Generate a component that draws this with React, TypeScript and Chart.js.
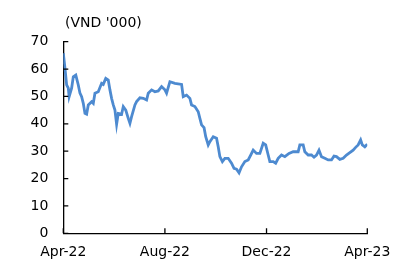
import React, { useEffect, useRef } from "react";
import { Chart, registerables } from "chart.js";

Chart.register(...registerables);

// Days since 1 Apr 2022
const days = [
  0, 2, 4, 6, 7, 10, 12, 15, 18, 20, 22, 24, 26, 28, 30, 34, 36, 38, 42, 46,
  48, 51, 54, 56, 58, 60, 62, 64, 66, 70, 72, 75, 78, 80, 82, 86, 88, 92, 96, 100,
  102, 106, 110, 114, 118, 122, 124, 128, 134, 142, 144, 148, 152, 154, 158, 162, 164, 166, 169, 171,
  174, 176, 180, 184, 186, 188, 191, 194, 198, 202, 205, 208, 211, 214, 218, 222, 225, 228, 232, 236,
  240, 243, 246, 248, 252, 255, 258, 262, 266, 271, 276, 282, 284, 288, 290, 294, 298, 301, 304, 307,
  310, 314, 318, 322, 325, 328, 332, 336, 340, 344, 348, 351, 354, 357, 359, 362, 365,
];
const prices = [
  65.8, 60.3, 54.2, 53, 49.9, 53, 57.2, 57.8, 54.2, 51.2, 49.9, 47.5, 43.8, 43.5, 46.9, 48.1, 47.5, 51.2, 51.7, 54.8,
  54.4, 56.6, 56, 52.4, 49.3, 46.9, 45, 39.8, 43.8, 43.5, 46.3, 45, 42, 40.2, 42.6, 46.9, 48.1, 49.5, 49.3, 48.7,
  51.2, 52.4, 51.7, 52, 53.6, 52.4, 51.2, 55.4, 54.8, 54.4, 49.9, 50.5, 49.3, 46.9, 46.3, 44.4, 42, 39.6, 38.6, 35.3,
  32.3, 33.5, 35.3, 34.7, 31.6, 28, 26.2, 27.4, 27.4, 25.6, 23.7, 23.4, 22.1, 24.3, 26.2, 26.8, 28.6, 30.4, 29.2, 29.2,
  32.9, 32.3, 28.6, 26.2, 26.2, 25.6, 27.4, 28.6, 28, 29.2, 29.8, 29.8, 32.3, 32.3, 29.8, 28.6, 28.6, 27.8, 28.6, 30.4,
  28, 27.4, 26.8, 26.8, 28.2, 28, 27, 27.4, 28.6, 29.5, 30.4, 31.4, 32.3, 34.1, 32.3, 31.6, 32.6,
];
const xTickDays = [0, 122, 244, 365];
const xTickLabels = ["Apr-22", "Aug-22", "Dec-22", "Apr-23"];
const yTicks = [0, 10, 20, 30, 40, 50, 60, 70];
const unitLabel = "(VND '000)";

const FONT = "'DejaVu Sans', sans-serif";

export default function App() {
  const ref = useRef<HTMLCanvasElement | null>(null);

  useEffect(() => {
    if (!ref.current) return;
    const innerTicks = {
      id: "innerTicks",
      afterDraw(chart: any) {
        const { ctx, scales, chartArea } = chart;
        ctx.save();
        ctx.strokeStyle = "#000";
        ctx.lineWidth = 1.3;
        ctx.beginPath();
        for (const v of yTicks) {
          const y = scales.y.getPixelForValue(v);
          ctx.moveTo(chartArea.left, y);
          ctx.lineTo(chartArea.left + 5, y);
        }
        for (const d of xTickDays) {
          const x = scales.x.getPixelForValue(d);
          ctx.moveTo(x, chartArea.bottom);
          ctx.lineTo(x, chartArea.bottom - 5);
        }
        ctx.stroke();
        ctx.fillStyle = "#000";
        ctx.font = "14px " + FONT;
        ctx.textBaseline = "middle";
        ctx.textAlign = "left";
        ctx.fillText(unitLabel, 65, 23);
        ctx.restore();
      },
    };
    const chart = new Chart(ref.current, {
      type: "line",
      data: {
        datasets: [
          {
            data: days.map((d, i) => ({ x: d, y: prices[i] })),
            borderColor: "#4d8ad0",
            borderWidth: 2.8,
            pointRadius: 0,
            tension: 0,
            fill: false,
          },
        ],
      },
      options: {
        animation: false,
        responsive: true,
        maintainAspectRatio: false,
        layout: { padding: { left: 0, right: 42.7, top: 41.7, bottom: 0 } },
        plugins: { legend: { display: false }, tooltip: { enabled: false }, title: { display: false } },
        scales: {
          x: {
            type: "linear",
            min: 0,
            max: 365,
            afterBuildTicks: (s: any) => {
              s.ticks = xTickDays.map((v) => ({ value: v }));
            },
            afterFit: (s: any) => {
              s.height = 29.7;
            },
            ticks: {
              autoSkip: false,
              maxRotation: 0,
              padding: 11,
              color: "#000",
              font: { family: FONT, size: 14 },
              callback: (v: any) => {
                const i = xTickDays.indexOf(Number(v));
                return i >= 0 ? xTickLabels[i] : "";
              },
            },
            grid: { display: false, drawTicks: false },
            border: { display: true, color: "#000", width: 1.3 },
          },
          y: {
            min: 0,
            max: 70,
            afterBuildTicks: (s: any) => {
              s.ticks = yTicks.map((v) => ({ value: v }));
            },
            afterFit: (s: any) => {
              s.width = 63.3;
            },
            ticks: {
              padding: 15,
              color: "#000",
              font: { family: FONT, size: 14 },
            },
            grid: { display: false, drawTicks: false },
            border: { display: true, color: "#000", width: 1.3 },
          },
        },
      },
      plugins: [innerTicks],
    });
    return () => chart.destroy();
  }, []);

  return (
    <div style={{ position: "absolute", left: 0, top: 0, width: 410, height: 263, background: "#fff" }}>
      <canvas ref={ref} />
    </div>
  );
}
